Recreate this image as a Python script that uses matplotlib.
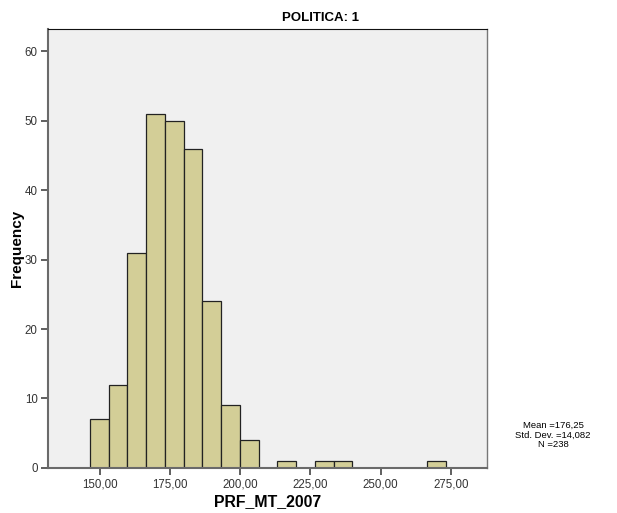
import matplotlib.pyplot as plt
import numpy as np

# histogram bins (SPSS style)
bin_start = 146.4
bin_width = 6.68
counts = [7, 12, 31, 51, 50, 46, 24, 9, 4, 0, 1, 0, 1, 1, 0, 0, 0, 0, 1]
x_ticks = [150, 175, 200, 225, 250, 275]
y_ticks = [0, 10, 20, 30, 40, 50, 60]
stats_lines = ["Mean =176,25", "Std. Dev. =14,082", "N =238"]

plt.rcParams['font.family'] = ['Liberation Sans', 'DejaVu Sans']

fig = plt.figure(figsize=(6.17, 5.13), dpi=100)
ax = fig.add_axes([0.0778, 0.088, 0.711, 0.855])
ax.set_facecolor('#f0f0f0')

edges = bin_start + bin_width * np.arange(len(counts) + 1)
ax.bar(edges[:-1], counts, width=bin_width, align='edge',
       color='#d3ce97', edgecolor='#222222', linewidth=0.9)

ax.set_xlim(131.5, 287.8)
ax.set_ylim(0, 63.2)
ax.set_xticks(x_ticks)
ax.set_xticklabels(['%d,00' % t for t in x_ticks])
ax.set_yticks(y_ticks)
ax.tick_params(axis='both', labelsize=8.3, colors='#444444', length=5, width=1.2,
               direction='out', pad=2.5)
ax.tick_params(axis='x', labelcolor='#333333')
ax.tick_params(axis='y', labelcolor='#333333')

for s in ['left', 'bottom']:
    ax.spines[s].set_color('#6a6a6a')
    ax.spines[s].set_linewidth(1.5)
ax.spines['top'].set_color('#111111')
ax.spines['top'].set_linewidth(0.8)
ax.spines['right'].set_color('#777777')
ax.spines['right'].set_linewidth(1.0)

ax.set_xlabel('PRF_MT_2007', fontsize=11.4, fontweight='bold', labelpad=3)
fig.text(17.5 / 617, 1 - 248 / 513, 'Frequency', rotation=90, ha='center',
         va='center', fontsize=11, fontweight='bold')

fig.text(321 / 617, 1 - 18 / 513, 'POLITICA: 1', ha='center', va='center',
         fontsize=9.5, fontweight='bold')
fig.text(553 / 617, 1 - 435 / 513, '\n'.join(stats_lines), ha='center',
         va='center', fontsize=6.8, linespacing=1.1)

fig.savefig('out.png', dpi=100)
